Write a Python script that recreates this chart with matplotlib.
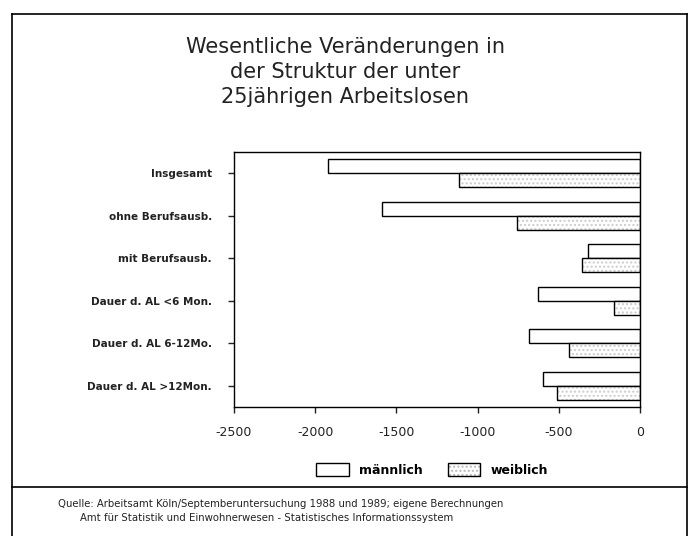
import numpy as np
import matplotlib
matplotlib.use("Agg")
import matplotlib.pyplot as plt
from matplotlib.patches import Rectangle
from matplotlib.lines import Line2D
from matplotlib.legend_handler import HandlerTuple

# Data (change in number of unemployed under 25, 1988 -> 1989)
categories = ["Insgesamt", "ohne Berufsausb.", "mit Berufsausb.",
              "Dauer d. AL <6 Mon.", "Dauer d. AL 6-12Mo.", "Dauer d. AL >12Mon."]
maennlich = [-1920, -1590, -320, -625, -685, -595]
weiblich = [-1115, -755, -355, -160, -440, -510]
xticks = [-2500, -2000, -1500, -1000, -500, 0]

plt.rcParams['font.family'] = ['DejaVu Sans']

fig = plt.figure(figsize=(6.9, 5.36), dpi=100)
ax = fig.add_axes([234 / 690, 129 / 536, 406 / 690, 255 / 536])

y = np.arange(len(categories))
h = 0.33

# maennlich: plain white bars
ax.barh(y - h / 2, maennlich, height=h, color="white", edgecolor="black", linewidth=1.0)
# weiblich: faint hatch, then black outline
ax.barh(y + h / 2, weiblich, height=h, color="white", edgecolor="#cccccc",
        linewidth=0, hatch="....")
ax.barh(y + h / 2, weiblich, height=h, color="none", edgecolor="black", linewidth=1.0)

ax.set_xlim(-2500, 0)
ax.set_ylim(len(categories) - 0.5, -0.5)
ax.set_xticks(xticks)
ax.set_xticklabels([str(v) for v in xticks], fontsize=9)
ax.set_yticks(y)
ax.set_yticklabels(categories, fontsize=7.5, fontweight="bold")
ax.tick_params(axis="both", direction="out", length=4, width=1, colors="#222222")
ax.tick_params(axis="x", pad=10)
ax.tick_params(axis="y", pad=12)
for s in ax.spines.values():
    s.set_linewidth(1.0)

# title
fig.text(0.5, 1 - 72 / 536, "Wesentliche Veränderungen in\nder Struktur der unter\n25jährigen Arbeitslosen",
         ha="center", va="center", fontsize=15, linespacing=1.3, color="#222222")

# legend
m_handle = Rectangle((0, 0), 1, 1, facecolor="white", edgecolor="black")
w_hatch = Rectangle((0, 0), 1, 1, facecolor="white", edgecolor="#bbbbbb", hatch="....", linewidth=0)
w_edge = Rectangle((0, 0), 1, 1, facecolor="none", edgecolor="black")
fig.legend([m_handle, (w_hatch, w_edge)], ["männlich", "weiblich"], loc="center", ncol=2,
           bbox_to_anchor=(432 / 690, 1 - 470 / 536), frameon=False,
           handlelength=2.6, handleheight=1.2, columnspacing=2.0,
           handler_map={tuple: HandlerTuple(ndivide=1, pad=0)},
           prop={"weight": "bold", "size": 9})

# outer frame and separator line
fig.add_artist(Line2D([12 / 690, 12 / 690], [0, 1 - 14 / 536], color="black", lw=1.2))
fig.add_artist(Line2D([687 / 690, 687 / 690], [0, 1 - 14 / 536], color="black", lw=1.2))
fig.add_artist(Line2D([12 / 690, 687 / 690], [1 - 14 / 536, 1 - 14 / 536], color="black", lw=1.2))
fig.add_artist(Line2D([12 / 690, 687 / 690], [1 - 487 / 536, 1 - 487 / 536], color="black", lw=1.2))

# source
fig.text(58 / 690, 1 - 504 / 536,
         "Quelle: Arbeitsamt Köln/Septemberuntersuchung 1988 und 1989; eigene Berechnungen",
         fontsize=7.3, va="center", color="#222222")
fig.text(80 / 690, 1 - 518 / 536,
         "Amt für Statistik und Einwohnerwesen - Statistisches Informationssystem",
         fontsize=7.3, va="center", color="#222222")

fig.savefig("out.png", dpi=100)
